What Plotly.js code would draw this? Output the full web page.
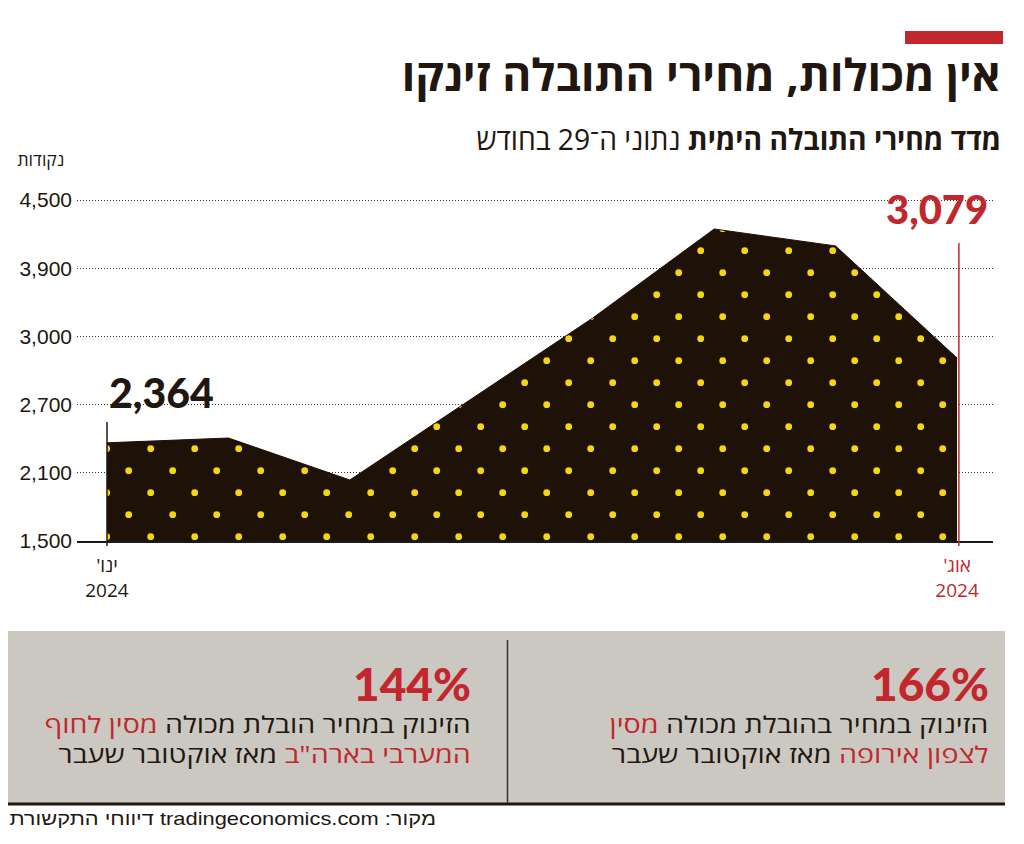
<!DOCTYPE html>
<html><head><meta charset="utf-8">
<script src="https://cdn.plot.ly/plotly-3.0.1.min.js"></script>
<style>html,body{margin:0;padding:0;background:#fff}#chart{width:1024px;height:844px}</style>
</head><body><div id="chart"></div>
<script>
// ---- data ----
const yTickValues = [1500, 2100, 2700, 3000, 3900, 4500];
const yTickLabels = ['1,500', '2,100', '2,700', '3,000', '3,900', '4,500'];
const periods = [0, 1, 2, 3, 4, 5, 6, 7];
const freightIndex = [2364, 2406, 2037, 2725, 3243, 4245, 4096, 2905];
const xTickPeriods = [0, 7];
const xTickMonths = ["ינו'", "אוג'"];
const xTickYears = ['2024', '2024'];
const firstValueLabel = '2,364';
const lastValueLabel = '3,079';
const statRight = '166%';
const statLeft = '144%';

// ---- styling ----
const W = 1024, H = 844, ML = 77, MR = 31, MT = 190, MB = 303;
const PW = W - ML - MR, PH = H - MT - MB;
const px = x => (x - ML) / PW;
const py = y => (H - MB - y) / PH;
const DARK = '#211710', RED = '#c1272d', FILL = '#1e1108', DOT = '#f5d60a', GRAY = '#cbc8c1';
const HEB = 'Open Sans, DejaVu Sans, Liberation Sans, sans-serif';
const NUM = 'Liberation Sans, Arial, sans-serif';
const BIG = 'Lato, Open Sans, sans-serif';
const RLE = '\u202B', PDF = '\u202C';
const rtl = s => RLE + s + PDF;

// the printed axis has evenly spaced but unevenly valued ticks: piecewise-linear scale
function toAxis(v) {
  for (let i = 0; i < yTickValues.length - 1; i++) {
    const a = yTickValues[i], b = yTickValues[i + 1];
    if (v <= b || i === yTickValues.length - 2) return i + (v - a) / (b - a);
  }
}

const trace = {
  x: periods,
  y: freightIndex.map(toAxis),
  type: 'scatter', mode: 'lines', fill: 'tozeroy',
  fillcolor: FILL,
  line: {color: FILL, width: 1},
  fillpattern: {shape: '.', bgcolor: FILL, fgcolor: DOT, size: 22, solidity: 0.08},
  hoverinfo: 'skip'
};

const xTickText = xTickMonths.map((m, i) => i === xTickMonths.length - 1
  ? `<span style="color:${RED}">${rtl(m)}</span><br><span style="color:${RED}">${xTickYears[i]}</span>`
  : `${rtl(m)}<br>${xTickYears[i]}`);

const layout = {
  width: W, height: H,
  margin: {l: ML, r: MR, t: MT, b: MB, pad: 0},
  paper_bgcolor: '#fff', plot_bgcolor: 'rgba(0,0,0,0)',
  showlegend: false, hovermode: false,
  xaxis: {
    range: [-0.247, 7.296], tickvals: xTickPeriods, ticktext: xTickText,
    showgrid: false, zeroline: false, showline: true, linecolor: '#1a1a1a', linewidth: 1.5,
    ticks: '', ticklabelstandoff: 7,
    tickfont: {family: HEB, size: 19, color: DARK}, fixedrange: true
  },
  yaxis: {
    range: [0, 5.147], tickvals: yTickValues.map(toAxis), ticktext: yTickLabels,
    showgrid: true, gridcolor: '#333', griddash: '1px,2px', gridwidth: 1,
    zeroline: false, showline: false, ticks: '', ticklabelstandoff: 4,
    tickfont: {family: NUM, size: 21, color: DARK}, fixedrange: true
  },
  shapes: [
    {type: 'rect', xref: 'paper', yref: 'paper', x0: px(905), x1: px(1003), y0: py(44), y1: py(31), fillcolor: RED, line: {width: 0}},
    {type: 'rect', xref: 'paper', yref: 'paper', x0: px(8), x1: px(1005), y0: py(803), y1: py(631), fillcolor: GRAY, line: {width: 0}, layer: 'below'},
    {type: 'line', xref: 'paper', yref: 'paper', x0: px(8), x1: px(1005), y0: py(804), y1: py(804), line: {color: DARK, width: 3}},
    {type: 'line', xref: 'paper', yref: 'paper', x0: px(507.5), x1: px(507.5), y0: py(640), y1: py(803), line: {color: '#3a3330', width: 1.5}},
    {type: 'line', xref: 'x', yref: 'paper', x0: periods[0], x1: periods[0], y0: py(422), y1: py(546), line: {color: DARK, width: 1.5}},
    {type: 'line', xref: 'x', yref: 'paper', x0: periods[periods.length - 1] + 0.015, x1: periods[periods.length - 1] + 0.015, y0: py(243), y1: py(546), line: {color: RED, width: 1.5}}
  ],
  annotations: [
    // 0 title
    {xref: 'paper', yref: 'paper', x: px(1003), y: py(74), xanchor: 'right', yanchor: 'middle', showarrow: false,
     text: rtl('אין מכולות, מחירי התובלה זינקו'), font: {family: HEB, size: 44, weight: 700, color: DARK}},
    // 1 subtitle
    {xref: 'paper', yref: 'paper', x: px(1003), y: py(138), xanchor: 'right', yanchor: 'middle', showarrow: false,
     text: '<b>מדד מחירי התובלה הימית</b> נתוני ה־29 בחודש', font: {family: HEB, size: 29, color: DARK}},
    // 2 unit
    {xref: 'paper', yref: 'paper', x: px(66), y: py(159), xanchor: 'right', yanchor: 'middle', showarrow: false,
     text: 'נקודות', font: {family: HEB, size: 17, color: DARK}},
    // 3 first value
    {xref: 'x', yref: 'paper', x: periods[0], y: py(392), xanchor: 'left', yanchor: 'middle', showarrow: false,
     text: firstValueLabel, font: {family: BIG, size: 41, weight: 900, color: DARK}},
    // 4 last value
    {xref: 'paper', yref: 'paper', x: px(990), y: py(209), xanchor: 'right', yanchor: 'middle', showarrow: false,
     text: lastValueLabel, font: {family: BIG, size: 40, weight: 900, color: RED}},
    // 5 right stat
    {xref: 'paper', yref: 'paper', x: px(991), y: py(683), xanchor: 'right', yanchor: 'middle', showarrow: false,
     text: statRight, font: {family: BIG, size: 46, weight: 900, color: RED}},
    // 6 right text
    {xref: 'paper', yref: 'paper', x: px(990), y: py(739), xanchor: 'right', yanchor: 'middle', align: 'right', showarrow: false,
     text: `הזינוק במחיר בהובלת מכולה <span style="color:${RED}">מסין</span><br><span style="color:${RED}">לצפון אירופה</span> מאז אוקטובר שעבר`,
     font: {family: HEB, size: 23, color: DARK}},
    // 7 left stat
    {xref: 'paper', yref: 'paper', x: px(473), y: py(683), xanchor: 'right', yanchor: 'middle', showarrow: false,
     text: statLeft, font: {family: BIG, size: 46, weight: 900, color: RED}},
    // 8 left text
    {xref: 'paper', yref: 'paper', x: px(473), y: py(739), xanchor: 'right', yanchor: 'middle', align: 'right', showarrow: false,
     text: `הזינוק במחיר הובלת מכולה <span style="color:${RED}">מסין לחוף</span><br><span style="color:${RED}">המערבי בארה"ב</span> מאז אוקטובר שעבר`,
     font: {family: HEB, size: 23, color: DARK}},
    // 9 source
    {xref: 'paper', yref: 'paper', x: px(438), y: py(819), xanchor: 'right', yanchor: 'middle', showarrow: false,
     text: rtl('מקור: tradingeconomics.com דיווחי התקשורת'), font: {family: NUM, size: 18, color: DARK}}
  ]
};

// target ink widths (px) for condensed typefaces: [annotation index, width, anchor]
const fitWidths = [[0, 599, 'right'], [1, 525, 'right'], [2, 47, 'right'], [6, 379, 'right'], [8, 426, 'right'], [9, 427, 'right']];

function fixPattern() {
  const ns = 'http://www.w3.org/2000/svg', tile = 44;
  const mod = (a, m) => ((a % m) + m) % m;
  const ax = mod(40.7 - ML, tile), ay = mod(30.7 - MT, tile);
  document.querySelectorAll('#chart pattern').forEach(p => {
    p.setAttribute('width', tile); p.setAttribute('height', tile);
    p.setAttribute('patternUnits', 'userSpaceOnUse');
    p.removeAttribute('patternTransform');
    while (p.firstChild) p.removeChild(p.firstChild);
    const r = document.createElementNS(ns, 'rect');
    r.setAttribute('width', tile); r.setAttribute('height', tile); r.setAttribute('fill', FILL);
    p.appendChild(r);
    [[ax, ay], [mod(ax + 22, tile), mod(ay + 22, tile)]].forEach(([cx, cy]) => {
      const c = document.createElementNS(ns, 'circle');
      c.setAttribute('cx', cx); c.setAttribute('cy', cy); c.setAttribute('r', 3.4); c.setAttribute('fill', DOT);
      p.appendChild(c);
    });
  });
}

function fitTexts() {
  fitWidths.forEach(([i, w, anchor]) => {
    const t = document.querySelector(`#chart g.annotation[data-index="${i}"] text.annotation-text`);
    if (!t) return;
    const bb = t.getBBox();
    if (!bb.width) return;
    const s = w / bb.width;
    const a = anchor === 'right' ? bb.x + bb.width : bb.x;
    const prev = t.getAttribute('transform') || '';
    t.setAttribute('transform', (prev + ` translate(${a * (1 - s)},0) scale(${s},1)`).trim());
  });
}

Plotly.newPlot('chart', [trace], layout, {staticPlot: true, displayModeBar: false}).then(() => {
  fixPattern();
  fitTexts();
});
</script>
</body></html>
